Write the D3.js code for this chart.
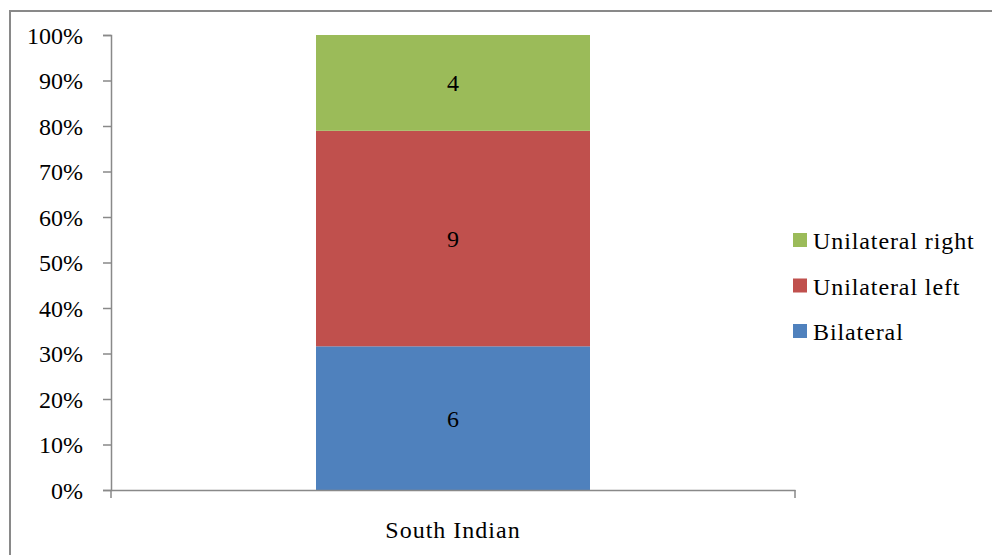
<!DOCTYPE html>
<html><head><meta charset="utf-8">
<script src="https://cdn.jsdelivr.net/npm/d3@7"></script>
<style>body{margin:0;background:#fff}svg{display:block}</style>
</head><body>
<svg id="c" width="992" height="555"></svg>
<script>
const categories = ["South Indian"];
const seriesNames = ["Bilateral", "Unilateral left", "Unilateral right"];
const bilateral = [6];
const unilateralLeft = [9];
const unilateralRight = [4];
const seriesColors = ["#4f81bd", "#c0504d", "#9bbb59"];
const yTicks = [0, 0.1, 0.2, 0.3, 0.4, 0.5, 0.6, 0.7, 0.8, 0.9, 1.0];

const rows = categories.map((c, i) => ({
  cat: c,
  "Bilateral": bilateral[i],
  "Unilateral left": unilateralLeft[i],
  "Unilateral right": unilateralRight[i]
}));
const stack = d3.stack().keys(seriesNames).offset(d3.stackOffsetExpand)(rows);

const svg = d3.select("#c");
const font = "'Liberation Serif','Times New Roman',serif";
const axisColor = "#898989";

// outer border (top + left)
svg.append("path").attr("d", "M10,555 L10,11 L992,11")
  .attr("fill", "none").attr("stroke", axisColor).attr("stroke-width", 2);

const mLeft = 111, mRight = 795, mTop = 35, mBottom = 490;
const x = d3.scaleBand().domain(categories).range([mLeft, mRight]).paddingInner(0).paddingOuter(0.3);
const y = d3.scaleLinear().domain([0, 1]).range([mBottom, mTop]);

const bw = 274;
const g = svg.append("g");
stack.forEach((s, si) => {
  s.forEach((d, i) => {
    const cx = x(categories[i]) + x.bandwidth() / 2;
    g.append("rect")
      .attr("x", cx - bw / 2).attr("width", bw)
      .attr("y", y(d[1])).attr("height", y(d[0]) - y(d[1]))
      .attr("fill", seriesColors[si]);
    g.append("text")
      .attr("x", cx).attr("y", (y(d[0]) + y(d[1])) / 2 + 8.5)
      .attr("text-anchor", "middle")
      .attr("font-family", font).attr("font-size", 24).attr("fill", "#000")
      .text(d.data[seriesNames[si]]);
  });
});

// y axis
const yAxis = svg.append("g").attr("transform", `translate(${mLeft},0)`)
  .call(d3.axisLeft(y).tickValues(yTicks).tickFormat(d3.format(".0%")).tickSizeOuter(0).tickSize(8).tickPadding(20));
yAxis.select(".domain").attr("stroke", axisColor).attr("stroke-width", 1.5);
yAxis.selectAll(".tick line").attr("stroke", axisColor).attr("stroke-width", 1.5);
yAxis.selectAll("text").attr("font-family", font).attr("font-size", 24).attr("fill", "#000").attr("dy", "0.35em");

// x axis
const xAxis = svg.append("g").attr("transform", `translate(0,${mBottom})`)
  .call(d3.axisBottom(x).tickSize(0).tickSizeOuter(0).tickPadding(31));
xAxis.select(".domain").attr("stroke", axisColor).attr("stroke-width", 1.5);
xAxis.selectAll("text").attr("font-family", font).attr("font-size", 24)
  .attr("letter-spacing", "1px").attr("fill", "#000");
[mLeft, mRight].forEach(px => {
  xAxis.append("line").attr("x1", px).attr("x2", px).attr("y1", 0).attr("y2", 8)
    .attr("stroke", axisColor).attr("stroke-width", 1.5);
});

// legend
const legendItems = seriesNames.map((n, i) => ({ name: n, color: seriesColors[i] })).reverse();
const lg = svg.append("g").attr("transform", "translate(793,233)");
legendItems.forEach((it, i) => {
  const row = lg.append("g").attr("transform", `translate(0,${i * 45.5})`);
  row.append("rect").attr("x", 0).attr("y", 0).attr("width", 14).attr("height", 14).attr("fill", it.color);
  row.append("text").attr("x", 20).attr("y", 16)
    .attr("font-family", font).attr("font-size", 24).attr("letter-spacing", "0.9px")
    .attr("fill", "#000").text(it.name);
});
</script>
</body></html>
